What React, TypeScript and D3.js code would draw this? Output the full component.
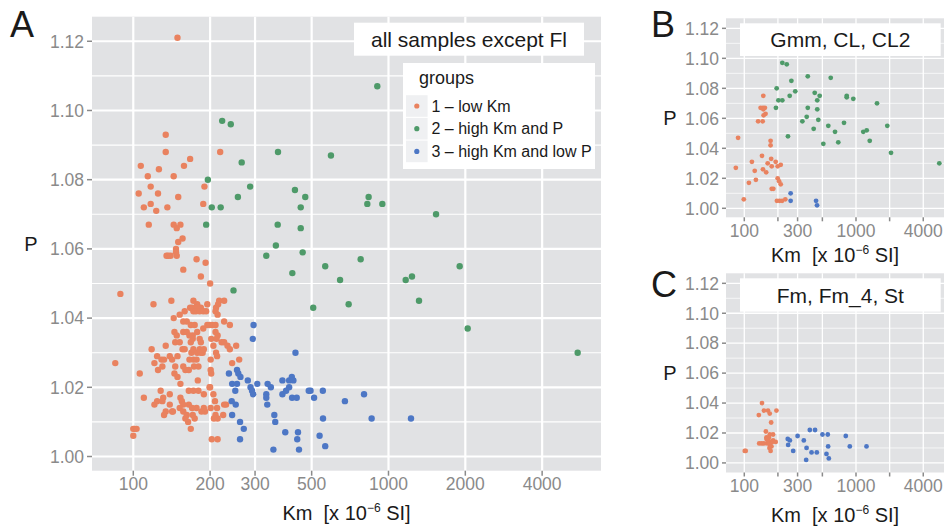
import React from 'react'
import * as d3 from 'd3'

const FONT = '"Liberation Sans", Arial, Helvetica, sans-serif'
const PANEL_BG = '#E1E2E4'
const TICK_GREY = '#8A8A8A'
const GROUP_COLORS = ['#E9825F', '#4E9A69', '#4D77C5']
const GROUP_LABELS = ['1 – low Km', '2 – high Km and P', '3 – high Km and low P']

const X_BREAKS = [100, 200, 300, 500, 1000, 2000, 4000]
const X_LABELS_FULL = ['100', '200', '300', '500', '1000', '2000', '4000']
const X_LABELS_SMALL = ['100', '', '300', '', '1000', '', '4000']
const Y_BREAKS = [1.0, 1.02, 1.04, 1.06, 1.08, 1.1, 1.12]
const Y_MINOR = [1.01, 1.03, 1.05, 1.07, 1.09, 1.11]

type Pt = [number, number]

// A: all samples except Fl  [Km, P]
const lowKmAll: Pt[] = [
  [149, 1.121], [134, 1.093], [134, 1.088], [167, 1.086], [107, 1.084], [126, 1.083], [158, 1.084],
  [114, 1.081], [144, 1.081], [219, 1.088], [190, 1.078], [105, 1.076], [117, 1.078], [125, 1.076],
  [150, 1.075], [110, 1.072], [117, 1.073], [123, 1.071], [136, 1.072], [188, 1.073], [115, 1.067],
  [144, 1.067], [153, 1.067], [148, 1.066], [150, 1.062], [156, 1.063], [147, 1.060],
  [135, 1.058], [137, 1.058], [140, 1.058], [147, 1.059], [148, 1.058], [177, 1.057], [157, 1.054],
  [192, 1.056], [184, 1.052], [200, 1.050], [89, 1.047],
  [120, 1.044], [141, 1.045], [172, 1.045], [178, 1.044], [217, 1.045], [227, 1.045], [195, 1.044],
  [167, 1.043], [170, 1.043], [175, 1.043], [179, 1.043], [184, 1.043], [211, 1.043], [215, 1.044],
  [152, 1.041], [159, 1.042], [172, 1.042], [176, 1.042], [182, 1.042], [188, 1.042], [193, 1.042],
  [210, 1.042], [214, 1.041],
  [144, 1.040], [162, 1.039], [157, 1.039], [168, 1.038], [174, 1.038], [227, 1.039], [195, 1.038],
  [199, 1.038], [204, 1.038], [210, 1.038], [239, 1.038],
  [145, 1.036], [148, 1.035], [157, 1.036], [162, 1.036], [166, 1.035], [171, 1.035], [178, 1.036],
  [188, 1.037], [210, 1.036], [214, 1.035],
  [202, 1.034], [212, 1.034], [222, 1.033], [227, 1.033], [234, 1.032], [239, 1.031], [253, 1.032],
  [146, 1.033], [152, 1.033], [168, 1.033], [171, 1.034], [182, 1.034], [184, 1.033], [134, 1.032],
  [156, 1.031], [159, 1.031],
  [169, 1.030], [172, 1.031], [178, 1.030], [182, 1.031], [187, 1.030], [206, 1.032], [118, 1.031],
  [124, 1.029], [129, 1.028], [132, 1.028], [139, 1.029], [142, 1.028], [149, 1.029], [166, 1.028],
  [172, 1.028], [177, 1.028], [184, 1.030], [189, 1.031], [211, 1.030], [213, 1.029], [201, 1.028],
  [244, 1.027], [260, 1.028], [85, 1.027],
  [121, 1.027], [130, 1.026], [125, 1.025], [146, 1.026], [145, 1.024], [157, 1.026], [149, 1.023],
  [160, 1.025], [165, 1.025], [173, 1.026], [180, 1.026], [201, 1.025], [106, 1.024], [153, 1.021],
  [179, 1.022], [202, 1.024], [199, 1.020], [200, 1.020],
  [110, 1.017], [121, 1.015], [128, 1.019], [131, 1.017], [130, 1.016], [139, 1.018], [153, 1.017],
  [155, 1.016], [157, 1.015], [165, 1.019], [172, 1.019], [180, 1.019], [189, 1.018], [206, 1.018],
  [209, 1.016], [213, 1.014], [227, 1.015], [201, 1.014], [177, 1.014], [165, 1.015], [170, 1.014],
  [142, 1.013], [134, 1.013], [132, 1.012], [152, 1.014], [157, 1.013], [162, 1.012], [171, 1.012],
  [174, 1.011], [191, 1.013], [210, 1.012], [214, 1.011], [124, 1.016], [139, 1.015],
  [164, 1.010], [168, 1.008], [185, 1.013], [189, 1.014], [203, 1.005], [214, 1.005], [207, 1.011],
  [225, 1.012], [231, 1.015], [100, 1.008], [101, 1.008], [103, 1.008], [100, 1.006], [160, 1.011],
  [143, 1.013],
]

const highKmHighPAll: Pt[] = [
  [223, 1.097], [241, 1.096], [266, 1.085], [196, 1.080], [287, 1.078], [257, 1.075], [203, 1.072],
  [220, 1.072], [193, 1.067], [369, 1.088], [595, 1.087], [904, 1.107], [430, 1.077], [472, 1.075],
  [453, 1.072], [368, 1.067], [453, 1.066], [362, 1.061], [836, 1.075], [826, 1.073], [946, 1.073],
  [1536, 1.070], [332, 1.058], [461, 1.059], [420, 1.053], [565, 1.055], [778, 1.057], [646, 1.051],
  [507, 1.043], [698, 1.044], [1168, 1.051], [1236, 1.052], [1317, 1.045], [1901, 1.055],
  [2043, 1.037], [5512, 1.030], [247, 1.048],
]

const highKmLowPAll: Pt[] = [
  [296, 1.038], [294, 1.034], [432, 1.030], [237, 1.024], [255, 1.025], [258, 1.024], [263, 1.023],
  [244, 1.021], [255, 1.021], [251, 1.019], [281, 1.022], [288, 1.020], [292, 1.019], [295, 1.018],
  [306, 1.021], [336, 1.021], [346, 1.020], [332, 1.018], [332, 1.017], [335, 1.015], [243, 1.016],
  [252, 1.015], [244, 1.012], [357, 1.012], [360, 1.010], [262, 1.010], [271, 1.008], [262, 1.005],
  [384, 1.022], [384, 1.018], [397, 1.019], [408, 1.020], [408, 1.022], [418, 1.023], [424, 1.022],
  [419, 1.017], [437, 1.017], [495, 1.019], [511, 1.017], [553, 1.019], [675, 1.016], [802, 1.018],
  [859, 1.011], [554, 1.011], [537, 1.006], [565, 1.003], [1225, 1.011], [394, 1.007], [442, 1.007],
  [439, 1.005], [354, 1.002], [446, 1.002], [487, 1.019],
]

// B: Gmm, CL, CL2
const lowKmGmm: Pt[] = [
  [148, 1.075], [140, 1.067], [147, 1.067], [153, 1.067], [148, 1.066], [155, 1.063], [149, 1.062],
  [133, 1.058], [146, 1.058], [88, 1.047], [172, 1.045], [172, 1.042], [144, 1.035], [117, 1.031],
  [174, 1.033], [191, 1.031], [162, 1.030], [212, 1.029], [199, 1.028], [176, 1.028], [84, 1.027],
  [147, 1.026], [124, 1.025], [157, 1.024], [199, 1.020], [205, 1.018], [212, 1.016], [127, 1.019],
  [110, 1.017], [176, 1.013], [182, 1.013], [99, 1.006], [196, 1.005], [207, 1.005], [218, 1.005],
  [233, 1.006],
]

const highKmHighPGmm: Pt[] = [
  [219, 1.097], [240, 1.096], [370, 1.088], [594, 1.087], [264, 1.085], [195, 1.080], [286, 1.078],
  [427, 1.077], [202, 1.072], [219, 1.072], [255, 1.075], [473, 1.075], [450, 1.072], [826, 1.075],
  [826, 1.074], [946, 1.073], [1542, 1.070], [192, 1.067], [370, 1.067], [450, 1.066], [362, 1.061],
  [460, 1.059], [331, 1.058], [781, 1.057], [565, 1.055], [1906, 1.055], [418, 1.053], [1162, 1.051],
  [1247, 1.052], [649, 1.051], [246, 1.048], [1327, 1.045], [694, 1.044], [510, 1.043], [2058, 1.037],
  [5568, 1.030],
]

const highKmLowPGmm: Pt[] = [[260, 1.010], [260, 1.005], [439, 1.005], [448, 1.002]]

// C: Fm, Fm_4, St
const lowKmFm: Pt[] = [
  [144, 1.040], [135, 1.032], [150, 1.035], [163, 1.035], [169, 1.033], [194, 1.035], [174, 1.027],
  [156, 1.021], [169, 1.019], [181, 1.019], [158, 1.017], [166, 1.017], [136, 1.013], [143, 1.013],
  [103, 1.008], [101, 1.008], [191, 1.014], [181, 1.015], [150, 1.013], [160, 1.013], [165, 1.014],
  [170, 1.012], [175, 1.011], [168, 1.010], [172, 1.008], [165, 1.015], [178, 1.014], [158, 1.016],
]

const highKmLowPFm: Pt[] = [
  [245, 1.016], [256, 1.015], [247, 1.012], [274, 1.008], [300, 1.018], [341, 1.015], [361, 1.010],
  [358, 1.002], [386, 1.022], [430, 1.022], [400, 1.007], [446, 1.007], [501, 1.019], [559, 1.019],
  [563, 1.011], [544, 1.006], [571, 1.003], [810, 1.018], [880, 1.011], [1242, 1.011],
]

type Box = { left: number; right: number; top: number; bottom: number }

interface PanelProps {
  box: Box
  xDomain: [number, number]
  yDomain: [number, number]
  series: { pts: Pt[]; color: string }[]
  xLabels: string[]
  r: number
  majorW: number
  minorW: number
  tickLen: number
  pX: number
  titleY: number
  letter: string
  letterX: number
  letterY: number
  label: { x: number; y: number; w: number; h: number; text: string }
}

function Panel(p: PanelProps) {
  const { box } = p
  const x = d3.scaleLog().domain(p.xDomain).range([box.left, box.right])
  const y = d3.scaleLinear().domain(p.yDomain).range([box.bottom, box.top])
  const midX = (box.left + box.right) / 2
  const midY = (box.top + box.bottom) / 2

  return (
    <g fontFamily={FONT}>
      <rect x={box.left} y={box.top} width={box.right - box.left} height={box.bottom - box.top} fill={PANEL_BG} />
      {Y_MINOR.map((v) => (
        <line key={'ym' + v} x1={box.left} x2={box.right} y1={y(v)} y2={y(v)} stroke="#fff" strokeWidth={p.minorW} />
      ))}
      {Y_BREAKS.map((v) => (
        <line key={'yM' + v} x1={box.left} x2={box.right} y1={y(v)} y2={y(v)} stroke="#fff" strokeWidth={p.majorW} />
      ))}
      {X_BREAKS.map((v) => (
        <line key={'xM' + v} x1={x(v)} x2={x(v)} y1={box.top} y2={box.bottom} stroke="#fff" strokeWidth={p.majorW} />
      ))}

      {p.series.map((s, si) =>
        s.pts.map((d, i) => <circle key={si + '-' + i} cx={x(d[0])} cy={y(d[1])} r={p.r} fill={s.color} />)
      )}

      {/* y axis */}
      {Y_BREAKS.map((v) => (
        <g key={'yt' + v}>
          <line x1={box.left - p.tickLen} x2={box.left} y1={y(v)} y2={y(v)} stroke={TICK_GREY} strokeWidth={1.5} />
          <text x={box.left - p.tickLen - 3} y={y(v)} dy="0.36em" textAnchor="end" fontSize={17.5} fill={TICK_GREY}>
            {d3.format('.2f')(v)}
          </text>
        </g>
      ))}
      {/* x axis */}
      {X_BREAKS.map((v, i) => (
        <g key={'xt' + v}>
          <line x1={x(v)} x2={x(v)} y1={box.bottom} y2={box.bottom + p.tickLen} stroke={TICK_GREY} strokeWidth={1.5} />
          <text x={x(v)} y={box.bottom + 19.5} textAnchor="middle" fontSize={17.5} fill={TICK_GREY}>
            {p.xLabels[i]}
          </text>
        </g>
      ))}

      <text x={p.pX} y={midY} dy="0.36em" textAnchor="middle" fontSize={20} fill="#1a1a1a">P</text>
      <text x={midX} y={p.titleY} textAnchor="middle" fontSize={20} fill="#1a1a1a" style={{ whiteSpace: 'pre' }}>
        {'Km  [x 10'}
        <tspan dy={-8} fontSize={12}>{'−6'}</tspan>
        <tspan dy={8}>{' SI]'}</tspan>
      </text>

      <rect x={p.label.x} y={p.label.y} width={p.label.w} height={p.label.h} fill="#fff" />
      <text x={p.label.x + p.label.w / 2} y={p.label.y + p.label.h / 2} dy="0.36em" textAnchor="middle" fontSize={21} fill="#1a1a1a">
        {p.label.text}
      </text>

      <text x={p.letterX} y={p.letterY} fontSize={36} fill="#1a1a1a">{p.letter}</text>
    </g>
  )
}

function Legend() {
  const left = 403
  const top = 63
  const rowY = (i: number) => 106 + i * 22.7
  return (
    <g fontFamily={FONT}>
      <rect x={left} y={top} width={192} height={106} fill="#fff" />
      <text x={419} y={84} fontSize={18} fill="#1a1a1a">groups</text>
      {GROUP_LABELS.map((lab, i) => (
        <g key={lab}>
          <rect x={406} y={rowY(i) - 10.8} width={21.6} height={21.6} fill="#EFF0F2" />
          <circle cx={416.8} cy={rowY(i)} r={2.6} fill={GROUP_COLORS[i]} />
          <text x={431.5} y={rowY(i)} dy="0.36em" fontSize={16} fill="#1a1a1a">{lab}</text>
        </g>
      ))}
    </g>
  )
}

export default function App() {
  return (
    <svg width={948} height={526} style={{ position: 'absolute', left: 0, top: 0, background: '#fff' }}>
      <Panel
        box={{ left: 92, right: 601, top: 16.7, bottom: 470.7 }}
        xDomain={[68.9, 6803]}
        yDomain={[0.9959, 1.1271]}
        series={[
          { pts: lowKmAll, color: GROUP_COLORS[0] },
          { pts: highKmHighPAll, color: GROUP_COLORS[1] },
          { pts: highKmLowPAll, color: GROUP_COLORS[2] },
        ]}
        xLabels={X_LABELS_FULL}
        r={3.2}
        majorW={2.2}
        minorW={1.1}
        tickLen={5}
        pX={31}
        titleY={519.5}
        letter="A"
        letterX={10}
        letterY={37}
        label={{ x: 354, y: 22.7, w: 230, h: 33, text: 'all samples except Fl' }}
      />
      <Legend />
      <Panel
        box={{ left: 726, right: 944, top: 18.3, bottom: 217.3 }}
        xDomain={[68.6, 6134]}
        yDomain={[0.994, 1.1267]}
        series={[
          { pts: lowKmGmm, color: GROUP_COLORS[0] },
          { pts: highKmHighPGmm, color: GROUP_COLORS[1] },
          { pts: highKmLowPGmm, color: GROUP_COLORS[2] },
        ]}
        xLabels={X_LABELS_SMALL}
        r={2.4}
        majorW={1.3}
        minorW={0.7}
        tickLen={4}
        pX={670}
        titleY={261.7}
        letter="B"
        letterX={651}
        letterY={36.5}
        label={{ x: 740, y: 23.3, w: 200.7, h: 32.7, text: 'Gmm, CL, CL2' }}
      />
      <Panel
        box={{ left: 726, right: 944, top: 273.3, bottom: 472.5 }}
        xDomain={[68.6, 6134]}
        yDomain={[0.9936, 1.1267]}
        series={[
          { pts: lowKmFm, color: GROUP_COLORS[0] },
          { pts: highKmLowPFm, color: GROUP_COLORS[2] },
        ]}
        xLabels={X_LABELS_SMALL}
        r={2.4}
        majorW={1.3}
        minorW={0.7}
        tickLen={4}
        pX={670}
        titleY={521.7}
        letter="C"
        letterX={651}
        letterY={297}
        label={{ x: 740, y: 278.3, w: 200.7, h: 33.4, text: 'Fm, Fm_4, St' }}
      />
    </svg>
  )
}
